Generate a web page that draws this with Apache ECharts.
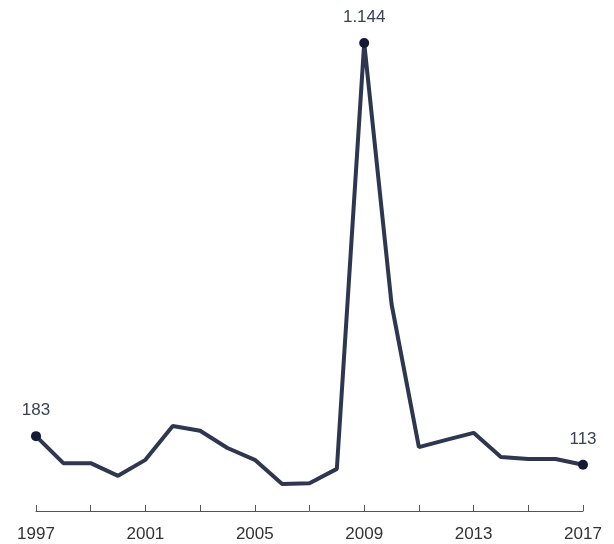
<!DOCTYPE html>
<html>
<head>
<meta charset="utf-8">
<script src="https://cdn.jsdelivr.net/npm/echarts@6/dist/echarts.min.js"></script>
<style>
  html, body { margin: 0; padding: 0; background: #fff; }
  #main { width: 614px; height: 544px; }
</style>
</head>
<body>
<div id="main"></div>
<script>
// years on the x axis
const years = ['1997', '1998', '1999', '2000', '2001', '2002', '2003', '2004', '2005', '2006', '2007',
  '2008', '2009', '2010', '2011', '2012', '2013', '2014', '2015', '2016', '2017']
// values
const values = [183, 117, 117, 86, 125, 208, 196, 154, 125, 66, 68,
  103, 1144, 506, 156, 174, 191, 132, 127, 127, 113]
// points that carry a label
const labelled = [0, 12, 20]

const fmt = (v) => String(v).replace(/\B(?=(\d{3})+(?!\d))/g, '.')

const chart = echarts.init(document.getElementById('main'))

const option = {
  animation: false,
  grid: { left: 36, right: 31, top: 43, bottom: 33 },
  xAxis: {
    type: 'category',
    data: years,
    boundaryGap: false,
    axisLine: { lineStyle: { color: '#555', width: 1 } },
    axisTick: { inside: true, length: 6, interval: 1, lineStyle: { color: '#555' } },
    axisLabel: {
      interval: 3,
      color: '#333',
      fontSize: 17,
      fontFamily: 'Liberation Sans, Arial, sans-serif',
      margin: 15
    }
  },
  yAxis: {
    type: 'value',
    min: 0,
    max: 1144,
    show: false
  },
  series: [
    {
      type: 'line',
      data: values.map((v, i) => ({
        value: v,
        symbol: labelled.includes(i) ? 'circle' : 'none',
        symbolSize: 10,
        label: {
          show: labelled.includes(i),
          position: 'top',
          distance: 12,
          formatter: (p) => fmt(p.value),
          color: '#3a4256',
          fontSize: 17,
          fontFamily: 'Liberation Sans, Arial, sans-serif'
        }
      })),
      lineStyle: { color: '#2e374f', width: 4 },
      itemStyle: { color: '#141a33' }
    }
  ]
}

chart.setOption(option)
</script>
</body>
</html>
